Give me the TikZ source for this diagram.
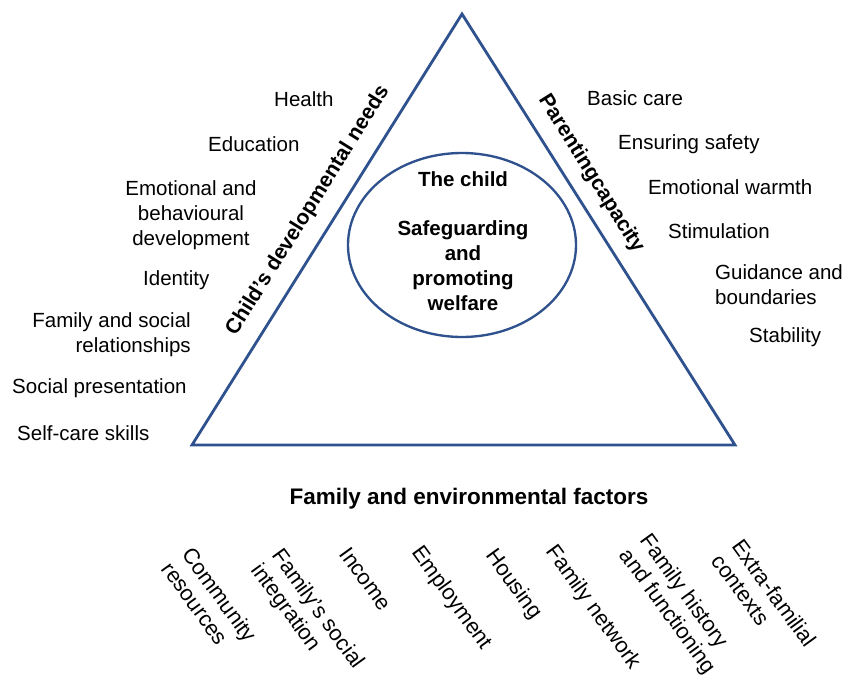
\documentclass[tikz,border=0pt]{standalone}
\usepackage{fontspec}
\setmainfont{Liberation Sans}
\usepackage{tikz}
\usetikzlibrary{shapes.geometric}
\definecolor{triblue}{RGB}{47,82,143}
\tikzset{
	side/.style={font=\fontsize{17.5}{21.3}\selectfont,anchor=west,align=left,inner sep=0pt},
	factor/.style={font=\fontsize{18.6}{21.3}\selectfont,anchor=north west,align=left,inner sep=0pt,rotate=-54},
	heading/.style={font=\bfseries\fontsize{18}{21.3}\selectfont,inner sep=0pt}}

\begin{document}
\begin{tikzpicture}[x=0.03cm,y=-0.03cm]
		\useasboundingbox (0,0) rectangle (842,675);
		% triangle and ellipse
		\coordinate (T) at (462,14);
		\coordinate (L) at (192,445);
		\coordinate (R) at (735,445);
		\draw [triblue,line width=2.4pt] (T) -- (L) -- (R) -- cycle;
		\node [draw=triblue,line width=2pt,ellipse,minimum width=6.84cm,minimum height=5.52cm] (E) at (462,245) {};
		\begin{scope}[every node/.style={font=\bfseries\fontsize{17.5}{21.3}\selectfont,align=center,inner sep=0pt}]
			\node (child) at (463,179) {The child};
			\node (welfare) at (463,266) {Safeguarding\\and\\promoting\\welfare};
		\end{scope}
		% edge headings
		\node [heading,rotate=58] (needs) at (308,211) {Child’s developmental needs};
		\node [heading,rotate=-58] (parent) at (591,174) {Parentingcapacity};
		\node [heading,font=\bfseries\fontsize{19.2}{21.3}\selectfont] (env) at (469,499) {Family and environmental factors};
		% child's needs
		\begin{scope}[every node/.style={side}]
			\node (health) at (274,99) {Health};
			\node (educ) at (208,144) {Education};
			\node [anchor=center,align=center] (emot) at (191,215) {Emotional and\\behavioural\\development};
			\node (ident) at (143,280) {Identity};
			\node [anchor=east,align=right] (relat) at (191,335) {Family and social\\relationships};
			\node (pres) at (12,388) {Social presentation};
			\node (self) at (17,433) {Self-care skills};
		\end{scope}
		% parenting capacity
		\begin{scope}[every node/.style={side}]
			\node (care) at (587,98) {Basic care};
			\node (safe) at (618,144) {Ensuring safety};
			\node (warm) at (648,187) {Emotional warmth};
			\node (stim) at (668,231) {Stimulation};
			\node (guide) at (715,285) {Guidance and\\boundaries};
			\node (stab) at (749,337) {Stability};
		\end{scope}
		% family and environmental factors
		\begin{scope}[every node/.style={factor}]
			\node (comm) at (194,545) {Community\\resources};
			\node (integ) at (284,546) {Family’s social\\integration};
			\node (income) at (351,545) {Income};
			\node (employ) at (424,543) {Employment};
			\node (house) at (498,546) {Housing};
			\node (network) at (558,542) {Family network};
			\node (history) at (652,531) {Family history\\and functioning};
			\node (extra) at (744,537) {Extra-familial\\contexts};
		\end{scope}
	\end{tikzpicture}
\end{document}
